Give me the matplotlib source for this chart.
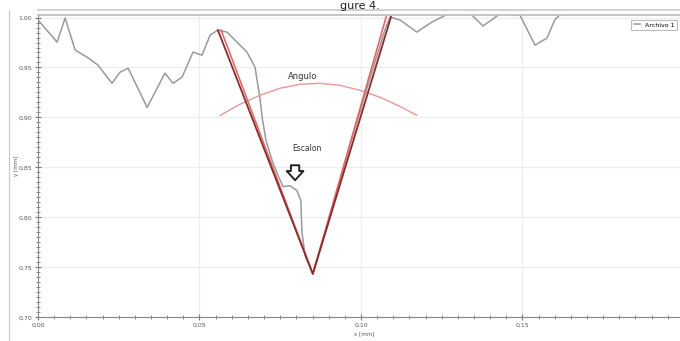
import numpy as np
import matplotlib.pyplot as plt
from matplotlib.ticker import MultipleLocator, FuncFormatter
from matplotlib.lines import Line2D

# measured profile (mm)
x_prof = [0.0000, 0.0059, 0.0084, 0.0115, 0.0152, 0.0186, 0.0229, 0.0254, 0.0279,
          0.0338, 0.0393, 0.0418, 0.0446, 0.0480, 0.0508, 0.0533, 0.0557, 0.0585,
          0.0616, 0.0647, 0.0672, 0.0687, 0.0694, 0.0706, 0.0725, 0.0743, 0.0759,
          0.0780, 0.0802, 0.0814, 0.0817, 0.0827, 0.0848, 0.0851, 0.0904, 0.0966,
          0.1028, 0.1074, 0.1090, 0.1121, 0.1173, 0.1220, 0.1276, 0.1337, 0.1378,
          0.1430, 0.1492, 0.1539, 0.1576, 0.1600, 0.1622]
y_prof = [0.9975, 0.9754, 0.9995, 0.9674, 0.9603, 0.9523, 0.9342, 0.9453, 0.9493,
          0.9101, 0.9443, 0.9342, 0.9403, 0.9654, 0.9623, 0.9824, 0.9874, 0.9854,
          0.9754, 0.9654, 0.9503, 0.9202, 0.9001, 0.8770, 0.8570, 0.8420, 0.8308,
          0.8318, 0.8268, 0.8168, 0.7867, 0.7616, 0.7465, 0.7445, 0.8017, 0.8720,
          0.9392, 0.9874, 1.0005, 0.9975, 0.9854, 0.9955, 1.0045, 1.0045, 0.9915,
          1.0035, 1.0025, 0.9724, 0.9794, 0.9975, 1.0045]

# V fitted to the groove flanks
x_v1 = [0.0557, 0.0851, 0.1093]
y_v1 = [0.9874, 0.7435, 1.0005]
x_v2 = [0.0567, 0.0851, 0.1078]
y_v2 = [0.9874, 0.7435, 1.0005]

# angle arc
x_arc = [0.0564, 0.0625, 0.0687, 0.0749, 0.0811, 0.0873, 0.0935, 0.0997, 0.1059, 0.1121, 0.1173]
y_arc = [0.9021, 0.9132, 0.9222, 0.9292, 0.9332, 0.9342, 0.9322, 0.9272, 0.9202, 0.9111, 0.9021]

fig = plt.figure(figsize=(6.8, 3.41), dpi=100)
ax = fig.add_axes([0.0559, 0.069, 0.9441, 0.887])

ax.plot(x_prof, y_prof, color='#9a9a9a', lw=1.1, label='Archivo 1', zorder=2)
ax.plot(x_arc, y_arc, color='#e59a9a', lw=1.0, zorder=3)
ax.plot(x_v2, y_v2, color='#e06a6a', lw=1.2, zorder=4)
ax.plot(x_v1, y_v1, color='#8a2c2c', lw=1.3, zorder=5)

ax.text(0.0820, 0.9413, 'Angulo', fontsize=6, color='#333333', ha='center', va='center')
ax.text(0.0833, 0.8690, 'Escalon', fontsize=5.5, color='#333333', ha='center', va='center')
ax.annotate('', xy=(0.0796, 0.8345), xytext=(0.0796, 0.8550),
            arrowprops=dict(arrowstyle='simple,head_width=1.0,head_length=0.55,tail_width=0.5',
                            mutation_scale=12, fc='white', ec='#222222', lw=1.4))

ax.set_xlim(0, 0.1988)
ax.set_ylim(0.70, 1.0025)
ax.xaxis.set_major_locator(MultipleLocator(0.05))
ax.xaxis.set_minor_locator(MultipleLocator(0.005))
ax.yaxis.set_major_locator(MultipleLocator(0.05))
ax.yaxis.set_minor_locator(MultipleLocator(0.005))
comma = FuncFormatter(lambda v, p: f'{v:.2f}'.replace('.', ','))
ax.xaxis.set_major_formatter(comma)
ax.yaxis.set_major_formatter(comma)
ax.tick_params(which='both', direction='inout', color='#777777', labelsize=4.5,
               labelcolor='#555555', pad=2)
ax.tick_params(which='major', length=4, width=0.8)
ax.tick_params(which='minor', length=2.5, width=0.6)

ax.grid(which='major', color='#ececec', lw=0.8)
ax.spines['right'].set_visible(False)
ax.spines['top'].set_color('#bbbbbb')
ax.spines['top'].set_linewidth(1.2)
ax.spines['left'].set_color('#888888')
ax.spines['bottom'].set_color('#888888')

ax.set_xlabel('x [mm]', fontsize=4, color='#555555', labelpad=1)
ax.xaxis.set_label_coords(0.508, -0.045)
ax.set_ylabel('y [mm]', fontsize=4, color='#555555', labelpad=1)
ax.yaxis.set_label_coords(-0.030, 0.5)

leg = ax.legend(loc='upper right', fontsize=4.5, frameon=True, fancybox=False,
                handlelength=1.0, borderpad=0.4, bbox_to_anchor=(1.0, 0.995))
leg.get_frame().set_edgecolor('#aaaaaa')
leg.get_frame().set_linewidth(0.8)

# panel frame
fig.add_artist(Line2D([0.0559, 1.0], [0.971, 0.971], color='#c8c8c8', lw=1.2))
fig.add_artist(Line2D([0.013, 0.013], [0.0, 0.971], color='#c8c8c8', lw=0.8))

fig.text(0.50, 0.998, 'gure 4.', fontsize=8, ha='left', va='top', color='#222222')

fig.savefig('out.png', dpi=100)
